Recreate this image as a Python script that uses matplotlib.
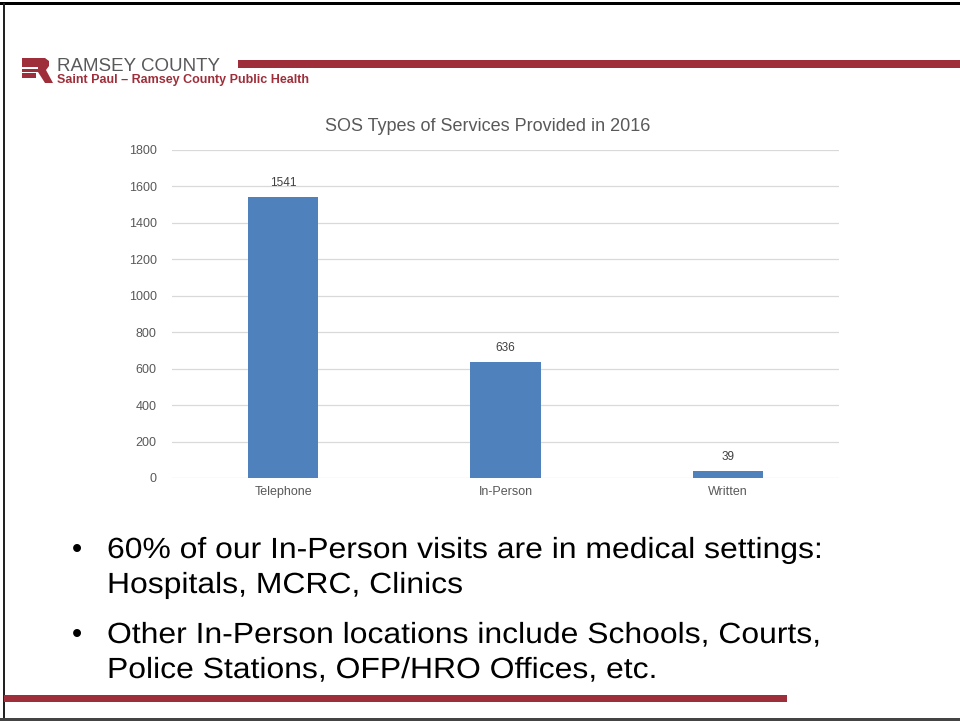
import matplotlib
matplotlib.use("Agg")
import matplotlib.pyplot as plt
from matplotlib.patches import Polygon, Rectangle
from matplotlib.patheffects import AbstractPathEffect
from matplotlib.transforms import Affine2D

categories = ["Telephone", "In-Person", "Written"]
values = [1541, 636, 39]
yticks = [0, 200, 400, 600, 800, 1000, 1200, 1400, 1600, 1800]
title = "SOS Types of Services Provided in 2016"
bullets = [
    "60% of our In-Person visits are in medical settings:\nHospitals, MCRC, Clinics",
    "Other In-Person locations include Schools, Courts,\nPolice Stations, OFP/HRO Offices, etc.",
]

W, H = 960, 721
RED = "#9E2F3A"
BLUE = "#4F81BD"


class HStretch(AbstractPathEffect):
    def __init__(self, sx, x0):
        super().__init__()
        self.sx = sx
        self.x0 = x0

    def draw_path(self, renderer, gc, tpath, affine, rgbFace=None):
        t = affine + Affine2D().translate(-self.x0, 0).scale(self.sx, 1).translate(self.x0, 0)
        renderer.draw_path(gc, tpath, t, rgbFace)


plt.rcParams['font.family'] = ['Liberation Sans', 'DejaVu Sans']
fig = plt.figure(figsize=(W / 100, H / 100), dpi=100)


def fx(x):
    return x / W


def fy(y):
    return 1 - y / H


# frame
fig.add_artist(Rectangle((0, fy(5)), 1, 3 / H, transform=fig.transFigure, color="black", lw=0))
fig.add_artist(Rectangle((fx(3), 0), 2 / W, fy(3), transform=fig.transFigure, color="#222222", lw=0))
fig.add_artist(Rectangle((0, fy(721)), 1, 3 / H, transform=fig.transFigure, color="#444444", lw=0))

# red bars
fig.add_artist(Rectangle((fx(238), fy(68)), fx(960) - fx(238), 8 / H, transform=fig.transFigure, color=RED, lw=0))
fig.add_artist(Rectangle((fx(4), fy(702)), fx(787) - fx(4), 7 / H, transform=fig.transFigure, color=RED, lw=0))

# logo R
pts = [(22, 58), (45, 58), (49, 61), (49, 66), (46, 70), (53, 83), (45, 83),
       (38, 72), (22, 72)]
fig.add_artist(Polygon([(fx(x), fy(y)) for x, y in pts], closed=True, transform=fig.transFigure,
                       color=RED, lw=0))
fig.add_artist(Rectangle((fx(22), fy(69)), fx(38) - fx(22), 2 / H, transform=fig.transFigure,
                         color="white", lw=0))
fig.add_artist(Rectangle((fx(22), fy(78)), fx(36) - fx(22), 5 / H, transform=fig.transFigure,
                         color=RED, lw=0))
fig.text(fx(57), fy(71), "RAMSEY COUNTY", fontsize=13.5, color="#58595B", ha="left", va="baseline")
fig.text(fx(57), fy(83), "Saint Paul \u2013 Ramsey County Public Health", fontsize=9,
         color=RED, fontweight="bold", ha="left", va="baseline")

# chart
ax = fig.add_axes([fx(172), fy(478), fx(839) - fx(172), fy(150) - fy(478)])
x = range(len(categories))
bars = ax.bar(x, values, width=0.315, color=BLUE, zorder=3)
ax.set_xlim(-0.5, len(categories) - 0.5)
ax.set_ylim(0, 1800)
ax.set_yticks(yticks)
ax.set_xticks(list(x))
ax.set_xticklabels(categories)
ax.grid(axis="y", color="#D9D9D9", lw=0.9, zorder=0)
for s in ax.spines.values():
    s.set_visible(False)
ax.tick_params(axis="both", length=0, labelsize=9, labelcolor="#595959", pad=11)
ax.tick_params(axis="x", pad=6)
for b, v in zip(bars, values):
    ax.annotate(str(v), (b.get_x() + b.get_width() / 2, v), xytext=(0, 6),
                textcoords="offset points", ha="center", va="bottom", fontsize=8.5, color="#404040")
fig.text(fx(488), fy(131), title, fontsize=13, color="#595959", ha="center", va="baseline")

# bullets
bases = [558, 643]
for base, btxt in zip(bases, bullets):
    lines = btxt.split("\n")
    fig.text(fx(72), fy(base), "\u2022", fontsize=21, color="black", ha="left", va="baseline")
    for j, ln in enumerate(lines):
        fig.text(fx(107), fy(base + j * 35), ln, fontsize=21, color="black", ha="left",
                 va="baseline", path_effects=[HStretch(1.093, 107)])

fig.savefig("out.png", dpi=100)
